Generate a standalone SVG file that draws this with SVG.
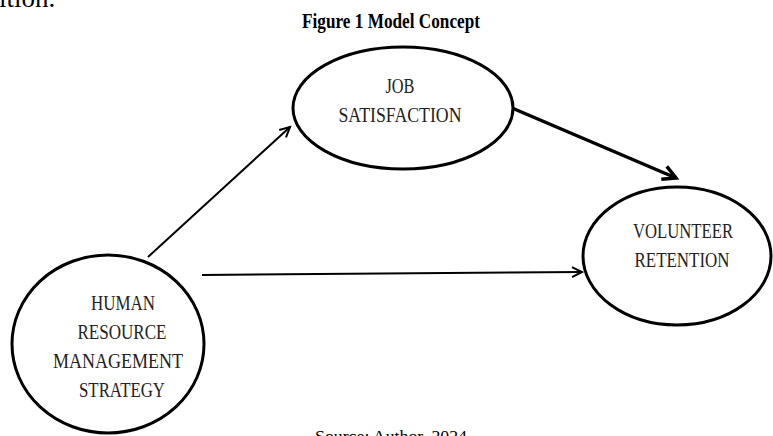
<svg xmlns="http://www.w3.org/2000/svg" width="773" height="436" viewBox="0 0 773 436">
<style>
  .node { fill: #ffffff; stroke: #000000; stroke-width: 3; }
  .lbl { font-family: "Liberation Serif", "Times New Roman", serif; font-size: 20px; fill: #222222; text-anchor: middle; }
  .conn { fill: none; stroke: #000000; stroke-width: 2; }
  .thick { stroke-width: 3.5; }
  .cap { font-family: "Liberation Serif", "Times New Roman", serif; fill: #000000; }
</style>
<defs>
  <marker id="arr" markerUnits="userSpaceOnUse" markerWidth="14" markerHeight="14" refX="11" refY="6" orient="auto" viewBox="0 0 14 12">
    <path d="M1,1 L11,6 L1,11" fill="none" stroke="#000" stroke-width="2" stroke-linejoin="miter"/>
  </marker>
  <marker id="arrT" markerUnits="userSpaceOnUse" markerWidth="18" markerHeight="18" refX="14" refY="8" orient="auto" viewBox="0 0 18 16">
    <path d="M1,1 L14,8 L1,15" fill="none" stroke="#000" stroke-width="3.5" stroke-linejoin="miter"/>
  </marker>
</defs>
<rect width="773" height="436" fill="#ffffff"/>
<text class="cap" x="-1" y="7" font-size="27">ition.</text>
<text class="cap" x="391" y="28" font-size="20" font-weight="bold" text-anchor="middle" textLength="178" lengthAdjust="spacingAndGlyphs">Figure 1 Model Concept</text>
<text class="cap" x="391" y="442" font-size="16" text-anchor="middle" textLength="152" lengthAdjust="spacingAndGlyphs">Source: Author, 2024</text>
<g id="connectors">
  <line class="conn" x1="148" y1="257" x2="290" y2="127" marker-end="url(#arr)"/>
  <line class="conn" x1="202" y1="275" x2="582" y2="272" marker-end="url(#arr)"/>
  <line class="conn thick" x1="512" y1="108" x2="676" y2="178" marker-end="url(#arrT)"/>
</g>
<g id="job-satisfaction">
  <ellipse class="node" cx="403" cy="108" rx="110" ry="61"/>
  <text class="lbl" x="400" y="93" textLength="29" lengthAdjust="spacingAndGlyphs">JOB</text>
  <text class="lbl" x="400" y="122" textLength="123" lengthAdjust="spacingAndGlyphs">SATISFACTION</text>
</g>
<g id="volunteer-retention">
  <ellipse class="node" cx="677" cy="256" rx="94" ry="69"/>
  <text class="lbl" x="683" y="238" textLength="100" lengthAdjust="spacingAndGlyphs">VOLUNTEER</text>
  <text class="lbl" x="682" y="267" textLength="95" lengthAdjust="spacingAndGlyphs">RETENTION</text>
</g>
<g id="hrm-strategy">
  <ellipse class="node" cx="108" cy="344" rx="96" ry="89"/>
  <text class="lbl" x="123" y="310" textLength="64" lengthAdjust="spacingAndGlyphs">HUMAN</text>
  <text class="lbl" x="122" y="339" textLength="89" lengthAdjust="spacingAndGlyphs">RESOURCE</text>
  <text class="lbl" x="118" y="368" textLength="130" lengthAdjust="spacingAndGlyphs">MANAGEMENT</text>
  <text class="lbl" x="122" y="397" textLength="86" lengthAdjust="spacingAndGlyphs">STRATEGY</text>
</g>
</svg>
